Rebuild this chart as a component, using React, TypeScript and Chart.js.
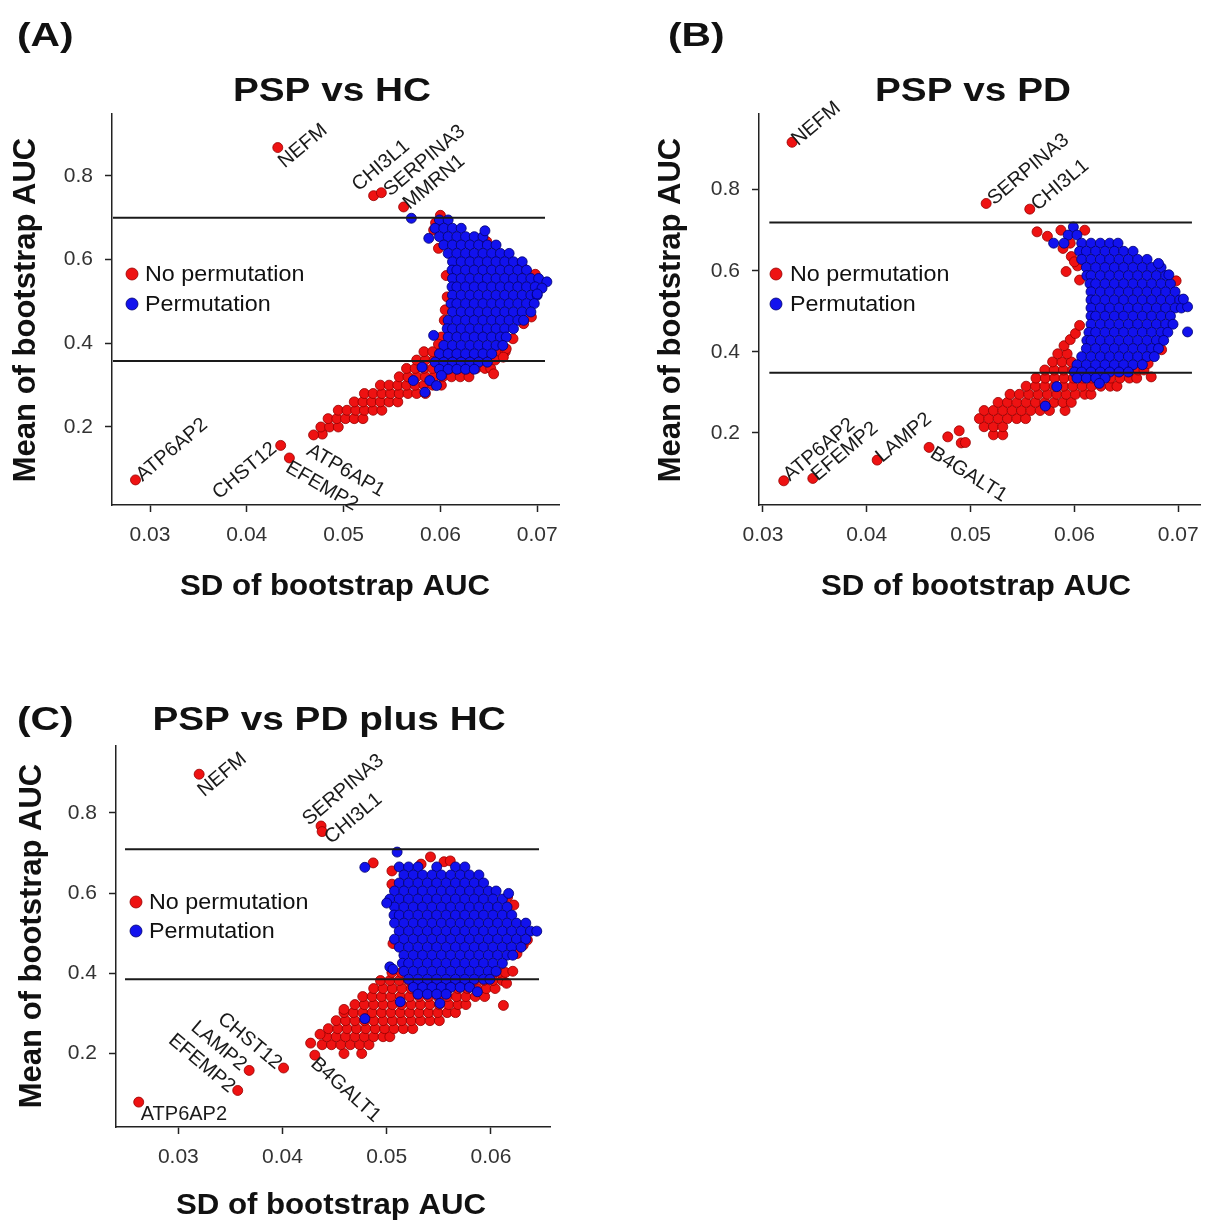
import React, { useEffect, useRef } from "react";
import { Chart, registerables } from "chart.js";

Chart.register(...registerables);

const FONT = "'Liberation Sans', Arial, Helvetica, sans-serif";
const RED = "rgb(238,18,18)";
const RED_EDGE = "rgb(150,0,0)";
const BLUE = "rgb(18,18,238)";
const BLUE_EDGE = "rgb(0,0,110)";

type Row = [number, number[]]; // [mean AUC, list of SD values at that level]
type Pt = [number, number]; // [SD, mean]

const legendLabels = ["No permutation", "Permutation"];
const xAxisTitle = "SD of bootstrap AUC";
const yAxisTitle = "Mean of bootstrap AUC";
const yTicks = [0.2, 0.4, 0.6, 0.8];
const yTickLabels = ["0.2", "0.4", "0.6", "0.8"];

// ---------------- Panel A: PSP vs HC ----------------
const xTicksA = [0.03, 0.04, 0.05, 0.06, 0.07];
const xTickLabelsA = ["0.03", "0.04", "0.05", "0.06", "0.07"];
const cutoffsA = [0.7, 0.358];
const blueRowsA: Row[] = [
  [0.695, [.0599, .0608]],
  [0.675, [.05945, .06035, .06125, .06215]],
  [0.655, [.0599, .0608, .0617, .0626, .0635, .0644]],
  [0.635, [.06035, .06125, .06215, .06305, .06395, .06485, .06575]],
  [0.615, [.0608, .0617, .0626, .0635, .0644, .0653, .0662, .0671]],
  [0.595, [.06125, .06215, .06305, .06395, .06485, .06575, .06665, .06755, .06845]],
  [0.575, [.0612, .0617, .0626, .0635, .0644, .0653, .0662, .0671, .068, .0689]],
  [0.555, [.06125, .06215, .06305, .06395, .06485, .06575, .06665, .06755, .06845, .06935, .07015]],
  [0.535, [.0612, .0617, .0626, .0635, .0644, .0653, .0662, .0671, .068, .0689, .0698]],
  [0.515, [.06125, .06215, .06305, .06395, .06485, .06575, .06665, .06755, .06845, .06935, .07]],
  [0.495, [.0611, .0617, .0626, .0635, .0644, .0653, .0662, .0671, .068, .0689, .0697]],
  [0.475, [.06125, .06215, .06305, .06395, .06485, .06575, .06665, .06755, .06845, .06935]],
  [0.455, [.0608, .0617, .0626, .0635, .0644, .0653, .0662, .0671, .068, .0686]],
  [0.435, [.0607, .06125, .06215, .06305, .06395, .06485, .06575, .06665, .06755]],
  [0.415, [.0608, .0617, .0626, .0635, .0644, .0653, .0662, .0668]],
  [0.395, [.06035, .06125, .06215, .06305, .06395, .06485, .06575, .06645]],
  [0.375, [.0599, .0608, .0617, .0626, .0635, .0644, .0653]],
  [0.355, [.05945, .06035, .06125, .06215, .06305, .06395, .06485]],
  [0.338, [.0599, .0608, .0617, .0626, .0635]],
];
const blueExtraA: Pt[] = [
  [.057, .699], [.0588, .651], [.0646, .669], [.071, .547], [.0705, .532], [.07, .518],
  [.0593, .419], [.0581, .343], [.0572, .311], [.0589, .311], [.0584, .283], [.0596, .299], [.0601, .323],
];
const redRowsA: Row[] = [
  [0.183, [.0478]],
  [0.2, [.04765, .04855, .04945]],
  [0.22, [.0484, .0493, .0502, .0511, .052]],
  [0.24, [.04945, .05035, .05125, .05215, .05305, .05395]],
  [0.26, [.0511, .052, .0529, .0538, .0547, .0556]],
  [0.28, [.05215, .05305, .05395, .05485, .05575, .05665, .05755, .05845]],
  [0.3, [.0538, .0547, .0556, .0565, .0574, .0583, .0592, .0601]],
  [0.32, [.05575, .05665, .05755, .05845, .05935, .06025, .06115, .06205, .06295]],
  [0.34, [.0565, .0574, .0583, .0592, .0601, .061, .0619, .0628, .0637, .0646, .0652]],
  [0.36, [.05755, .05845, .05935, .06025, .06115, .06205, .06295, .06385, .06475, .06565]],
  [0.38, [.0583, .0592, .0601, .061, .0662, .0667]],
];
const redExtraA: Pt[] = [
  [.06, .706], [.0593, .671], [.0598, .627], [.0595, .688], [.0648, .643], [.0686, .579],
  [.0682, .59], [.0698, .565], [.0607, .511], [.0604, .455], [.0601, .415], [.0598, .398],
  [.0605, .48], [.0694, .463], [.0686, .447], [.0675, .411], [.0668, .387], [.0665, .367],
  [.0655, .327], [.0606, .562],
];
const geneNamesA = ["NEFM", "CHI3L1", "SERPINA3", "MMRN1", "ATP6AP2", "CHST12", "EFEMP2", "ATP6AP1"];
const geneXA = [.0432, .0531, .0539, .0562, .0285, .0435, .0444, .0469];
const geneYA = [.868, .753, .76, .726, .0735, .156, .126, .181];

// ---------------- Panel B: PSP vs PD ----------------
const xTicksB = [0.03, 0.04, 0.05, 0.06, 0.07];
const xTickLabelsB = ["0.03", "0.04", "0.05", "0.06", "0.07"];
const cutoffsB = [0.719, 0.348];
const blueRowsB: Row[] = [
  [0.708, [.0599]],
  [0.688, [.0594, .06025]],
  [0.668, [.058, .059, .0607, .0616, .0625, .0634, .0642]],
  [0.648, [.0605, .06115, .06205, .06295, .06385, .06475, .06565]],
  [0.628, [.0607, .0616, .0625, .0634, .0643, .0652, .0661, .067]],
  [0.608, [.06115, .06205, .06295, .06385, .06475, .06565, .06655, .06745, .06835]],
  [0.588, [.0612, .0616, .0625, .0634, .0643, .0652, .0661, .067, .0679, .0688]],
  [0.568, [.0615, .06205, .06295, .06385, .06475, .06565, .06655, .06745, .06835, .06925]],
  [0.548, [.0616, .0625, .0634, .0643, .0652, .0661, .067, .0679, .0688, .0697]],
  [0.528, [.0616, .06205, .06295, .06385, .06475, .06565, .06655, .06745, .06835, .06925, .07015]],
  [0.508, [.0616, .0625, .0634, .0643, .0652, .0661, .067, .0679, .0688, .0697, .0703]],
  [0.488, [.0616, .06205, .06295, .06385, .06475, .06565, .06655, .06745, .06835, .06925]],
  [0.468, [.0616, .0625, .0634, .0643, .0652, .0661, .067, .0679, .0688, .0695]],
  [0.448, [.0614, .06205, .06295, .06385, .06475, .06565, .06655, .06745, .06835, .069]],
  [0.428, [.0612, .0616, .0625, .0634, .0643, .0652, .0661, .067, .0679, .0686]],
  [0.408, [.06115, .06205, .06295, .06385, .06475, .06565, .06655, .06745, .0681]],
  [0.388, [.0607, .0616, .0625, .0634, .0643, .0652, .0661, .067, .0677]],
  [0.368, [.06025, .06115, .06205, .06295, .06385, .06475, .06565, .06655]],
  [0.35, [.06, .0607, .0616, .0625, .0634, .0643, .0652]],
  [0.335, [.06025, .06115, .06205, .06295]],
];
const blueExtraB: Pt[] = [
  [.0709, .511], [.0709, .449], [.0681, .618], [.0691, .59], [.0583, .314], [.0572, .266], [.0624, .322], [.0705, .53],
];
const redRowsB: Row[] = [
  [0.195, [.0522, .0531]],
  [0.215, [.0513, .0522, .0531]],
  [0.235, [.05085, .05175, .05265, .05355, .05445, .0553]],
  [0.255, [.0513, .0522, .0531, .054, .0549, .0558, .0567, .0576, .0591]],
  [0.275, [.05265, .05355, .05445, .05535, .05625, .05715, .05805, .0589, .0597]],
  [0.295, [.0538, .0547, .0556, .0565, .0574, .0583, .0592, .0601, .061, .0616]],
  [0.315, [.05535, .05625, .05715, .05805, .05895, .05985, .06075, .06165, .06255, .06345, .0641]],
  [0.335, [.0563, .0572, .0581, .059, .0599, .0608, .0617, .0626, .0635, .0644, .0653, .066]],
  [0.355, [.05715, .05805, .05895, .05985, .06075, .06165, .06255, .06345, .06435, .06525, .06615, .0667]],
  [0.375, [.0579, .0588, .0597, .0669]],
  [0.395, [.0584, .0593, .0675]],
  [0.415, [.059]],
];
const redExtraB: Pt[] = [
  [.0478, .19], [.0489, .205], [.0491, .175], [.0495, .176],
  [.0564, .696], [.0574, .685], [.0587, .7], [.0589, .655], [.0597, .635], [.0592, .598], [.0605, .577],
  [.061, .7], [.0596, .668], [.0603, .612], [.06, .622],
  [.0698, .575], [.0671, .371], [.0674, .338], [.0684, .405], [.0596, .43], [.0601, .445], [.0605, .465],
];
const geneNamesB = ["NEFM", "SERPINA3", "CHI3L1", "ATP6AP2", "EFEMP2", "LAMP2", "B4GALT1"];
const geneXB = [.0328, .0515, .0557, .032, .0348, .041, .046];
const geneYB = [.917, .766, .752, .0815, .0874, .1326, .164];

// ---------------- Panel C: PSP vs PD plus HC ----------------
const xTicksC = [0.03, 0.04, 0.05, 0.06];
const xTickLabelsC = ["0.03", "0.04", "0.05", "0.06"];
const cutoffsC = [0.709, 0.385];
const blueRowsC: Row[] = [
  [0.702, [.051]],
  [0.665, [.0512, .0521, .053, .0548, .0566, .0575]],
  [0.645, [.05165, .05255, .05345, .05435, .05525, .05615, .05705, .05795, .05885]],
  [0.625, [.0512, .0521, .053, .0539, .0548, .0557, .0566, .0575, .0584, .0593]],
  [0.605, [.05075, .05165, .05255, .05345, .05435, .05525, .05615, .05705, .05795, .05885, .05975, .0605]],
  [0.585, [.0503, .0512, .0521, .053, .0539, .0548, .0557, .0566, .0575, .0584, .0593, .0602, .0611]],
  [0.565, [.05075, .05165, .05255, .05345, .05435, .05525, .05615, .05705, .05795, .05885, .05975, .06065, .06155]],
  [0.545, [.0507, .0512, .0521, .053, .0539, .0548, .0557, .0566, .0575, .0584, .0593, .0602, .0611, .062]],
  [0.525, [.05075, .05165, .05255, .05345, .05435, .05525, .05615, .05705, .05795, .05885, .05975, .06065, .06155, .06245, .06335]],
  [0.505, [.0512, .0521, .053, .0539, .0548, .0557, .0566, .0575, .0584, .0593, .0602, .0611, .062, .0629, .0638, .0644]],
  [0.485, [.05075, .05165, .05255, .05345, .05435, .05525, .05615, .05705, .05795, .05885, .05975, .06065, .06155, .06245, .06335]],
  [0.465, [.0512, .0521, .053, .0539, .0548, .0557, .0566, .0575, .0584, .0593, .0602, .0611, .062, .0629]],
  [0.445, [.05165, .05255, .05345, .05435, .05525, .05615, .05705, .05795, .05885, .05975, .06065, .06155, .0621]],
  [0.425, [.0515, .0521, .053, .0539, .0548, .0557, .0566, .0575, .0584, .0593, .0602, .0611]],
  [0.405, [.05165, .05255, .05345, .05435, .05525, .05615, .05705, .05795, .05885, .05975, .0605]],
  [0.385, [.0521, .053, .0539, .0548, .0557, .0566, .0575, .0584, .0593, .0599]],
  [0.365, [.05255, .05345, .05435, .05525, .05615, .05705, .05795]],
  [0.348, [.053, .0539, .0548, .0557]],
];
const blueExtraC: Pt[] = [
  [.0479, .664], [.0617, .599], [.0503, .416], [.0506, .41], [.05, .575], [.0587, .354], [.0551, .325], [.0513, .329], [.0479, .287],
];
const redRowsC: Row[] = [
  [0.2, [.0459, .0476]],
  [0.222, [.0438, .0447, .0456, .0465, .0474, .0483]],
  [0.242, [.04425, .04515, .04605, .04695, .04785, .04875, .04965, .0503]],
  [0.262, [.0444, .0453, .0462, .0471, .048, .0489, .0498, .0507, .0516, .0525]],
  [0.282, [.04515, .04605, .04695, .04785, .04875, .04965, .05055, .05145, .05235, .05325, .05415, .05505]],
  [0.302, [.0459, .0468, .0477, .0486, .0495, .0504, .0513, .0522, .0531, .054, .0549, .0558, .0566]],
  [0.322, [.04695, .04785, .04875, .04965, .05055, .05145, .05235, .05325, .05415, .05505, .05595, .05685, .0576]],
  [0.342, [.0477, .0486, .0495, .0504, .0513, .0522, .0531, .054, .0549, .0558, .0567, .0576, .0585, .0594]],
  [0.362, [.04875, .04965, .05055, .05145, .05235, .05325, .05415, .05505, .05595, .05685, .05775, .05865, .05955, .0604]],
  [0.382, [.0494, .0503, .0512, .0521, .053, .0539, .0548, .0557, .0566, .0575, .0584, .0593, .0602, .0611]],
  [0.402, [.0505, .0514, .0608, .0614]],
];
const redExtraC: Pt[] = [
  [.0427, .226], [.0436, .248], [.0459, .31], [.0612, .32], [.0615, .375], [.0621, .405], [.0625, .449],
  [.0631, .47], [.0635, .483], [.0616, .59], [.0622, .57], [.0487, .675], [.0505, .655], [.0533, .672],
  [.0542, .69], [.0555, .678], [.0561, .68], [.0506, .474], [.0505, .622],
];
const geneNamesC = ["NEFM", "SERPINA3", "CHI3L1", "CHST12", "LAMP2", "EFEMP2", "ATP6AP2", "B4GALT1"];
const geneXC = [.032, .0437, .0438, .0401, .0368, .0357, .0262, .0431];
const geneYC = [.896, .767, .753, .164, .158, .108, .079, .196];

// ---------------- layout / style (positions in px) ----------------
type LabelStyle = [number, number, number, CanvasTextAlign]; // dx, dy, angle, align

interface PanelCfg {
  left: number; top: number; w: number; h: number;
  area: { l: number; t: number; r: number; b: number };
  xMin: number; xMax: number; yMin: number; yMax: number;
  lineX: [number, number];
  cutoffs: number[];
  xTicks: number[]; xTickLabels: string[];
  blueRows: Row[]; blueExtra: Pt[]; redRows: Row[]; redExtra: Pt[];
  geneNames: string[]; geneX: number[]; geneY: number[]; labelStyles: LabelStyle[];
  letter: string; letterPos: [number, number];
  title: string; titlePos: [number, number];
  xTitlePos: [number, number]; yTitlePos: [number, number];
  legendDotX: number; legendY: [number, number]; legendTextX: number;
}

const panels: PanelCfg[] = [
  {
    left: 0, top: 0, w: 600, h: 610,
    area: { l: 112, t: 114, r: 559, b: 505 },
    xMin: 0.026074, xMax: 0.072252, yMin: 0.01353, yMax: 0.9482,
    lineX: [0.026178, 0.070806], cutoffs: cutoffsA,
    xTicks: xTicksA, xTickLabels: xTickLabelsA,
    blueRows: blueRowsA, blueExtra: blueExtraA, redRows: redRowsA, redExtra: redExtraA,
    geneNames: geneNamesA, geneX: geneXA, geneY: geneYA,
    labelStyles: [
      [7, 21, -40, "left"], [-15, -4, -40, "left"], [9, 4, -40, "left"], [6, 3, -40, "left"],
      [7, 2, -40, "left"], [-3, 5, -40, "right"], [-5, 13, 30, "left"], [-8, 19, 30, "left"],
    ],
    letter: "(A)", letterPos: [17, 46],
    title: "PSP vs HC", titlePos: [332, 101],
    xTitlePos: [335, 595], yTitlePos: [35, 310],
    legendDotX: 132, legendY: [274, 304], legendTextX: 145,
  },
  {
    left: 600, top: 0, w: 610, h: 610,
    area: { l: 159, t: 114, r: 603, b: 505 },
    xMin: 0.029617, xMax: 0.072146, yMin: 0.02182, yMax: 0.9868,
    lineX: [0.030613, 0.071322], cutoffs: cutoffsB,
    xTicks: xTicksB, xTickLabels: xTickLabelsB,
    blueRows: blueRowsB, blueExtra: blueExtraB, redRows: redRowsB, redExtra: redExtraB,
    geneNames: geneNamesB, geneX: geneXB, geneY: geneYB,
    labelStyles: [
      [6, 4, -40, "left"], [8, 2, -40, "left"], [8, 2, -40, "left"], [6, 1, -40, "left"],
      [5, 3, -40, "left"], [5, 3, -40, "left"], [0, 9, 32, "left"],
    ],
    letter: "(B)", letterPos: [68, 46],
    title: "PSP vs PD", titlePos: [373, 101],
    xTitlePos: [376, 595], yTitlePos: [80, 310],
    legendDotX: 176, legendY: [274, 304], legendTextX: 190,
  },
  {
    left: 0, top: 620, w: 600, h: 600,
    area: { l: 116, t: 126, r: 550, b: 507 },
    xMin: 0.02402, xMax: 0.06567, yMin: 0.017, yMax: 0.9663,
    lineX: [0.024885, 0.064616], cutoffs: cutoffsC,
    xTicks: xTicksC, xTickLabels: xTickLabelsC,
    blueRows: blueRowsC, blueExtra: blueExtraC, redRows: redRowsC, redExtra: redExtraC,
    geneNames: geneNamesC, geneX: geneXC, geneY: geneYC,
    labelStyles: [
      [5, 23, -40, "left"], [-12, 0, -40, "left"], [9, 13, -40, "left"], [-8, 2, 40, "right"],
      [-9, 1, 40, "right"], [-9, 3, 40, "right"], [2, 18, 0, "left"], [-5, 10, 42, "left"],
    ],
    letter: "(C)", letterPos: [17, 110],
    title: "PSP vs PD plus HC", titlePos: [329, 110],
    xTitlePos: [331, 594], yTitlePos: [41, 316],
    legendDotX: 136, legendY: [282, 311], legendTextX: 149,
  },
];

function flatten(rows: Row[], extra: Pt[]) {
  const out: { x: number; y: number }[] = [];
  for (const [y, xs] of rows) for (const x of xs) out.push({ x, y });
  for (const [x, y] of extra) out.push({ x, y });
  return out;
}

function drawScaledText(ctx: CanvasRenderingContext2D, text: string, x: number, y: number, sx: number, align: CanvasTextAlign) {
  ctx.save();
  ctx.translate(x, y);
  ctx.scale(sx, 1);
  ctx.textAlign = align;
  ctx.fillText(text, 0, 0);
  ctx.restore();
}

function overlayPlugin(cfg: PanelCfg) {
  return {
    id: "overlay",
    afterDraw(chart: any) {
      const ctx: CanvasRenderingContext2D = chart.ctx;
      ctx.save();
      ctx.fillStyle = "#111";
      ctx.textBaseline = "alphabetic";
      ctx.font = `bold 34px ${FONT}`;
      drawScaledText(ctx, cfg.letter, cfg.letterPos[0], cfg.letterPos[1], 1.2, "left");
      ctx.font = `bold 34px ${FONT}`;
      drawScaledText(ctx, cfg.title, cfg.titlePos[0], cfg.titlePos[1], 1.14, "center");
      ctx.font = `bold 30px ${FONT}`;
      drawScaledText(ctx, xAxisTitle, cfg.xTitlePos[0], cfg.xTitlePos[1], 1.04, "center");
      ctx.save();
      ctx.translate(cfg.yTitlePos[0], cfg.yTitlePos[1]);
      ctx.rotate(-Math.PI / 2);
      ctx.font = `bold 31px ${FONT}`;
      ctx.textAlign = "center";
      ctx.fillText(yAxisTitle, 0, 0);
      ctx.restore();

      // legend
      const colors = [[RED, RED_EDGE], [BLUE, BLUE_EDGE]];
      ctx.font = `22px ${FONT}`;
      ctx.textBaseline = "middle";
      legendLabels.forEach((lab, i) => {
        ctx.beginPath();
        ctx.arc(cfg.legendDotX, cfg.legendY[i], 6, 0, Math.PI * 2);
        ctx.fillStyle = colors[i][0];
        ctx.fill();
        ctx.lineWidth = 0.8;
        ctx.strokeStyle = colors[i][1];
        ctx.stroke();
        ctx.fillStyle = "#111";
        drawScaledText(ctx, lab, cfg.legendTextX, cfg.legendY[i] + 1, 1.06, "left");
      });

      // gene labels
      const xs = chart.scales.x;
      const ys = chart.scales.y;
      ctx.font = `20px ${FONT}`;
      ctx.fillStyle = "#1a1a1a";
      ctx.textBaseline = "alphabetic";
      cfg.geneNames.forEach((name, i) => {
        const [dx, dy, ang, align] = cfg.labelStyles[i];
        const px = xs.getPixelForValue(cfg.geneX[i]) + dx;
        const py = ys.getPixelForValue(cfg.geneY[i]) + dy;
        ctx.save();
        ctx.translate(px, py);
        ctx.rotate((ang * Math.PI) / 180);
        ctx.textAlign = align;
        ctx.fillText(name, 0, 0);
        ctx.restore();
      });
      ctx.restore();
    },
  };
}

function Panel({ cfg }: { cfg: PanelCfg }) {
  const ref = useRef<HTMLCanvasElement>(null);
  useEffect(() => {
    const canvas = ref.current!;
    const red = flatten(cfg.redRows, cfg.redExtra).concat(
      cfg.geneX.map((x, i) => ({ x, y: cfg.geneY[i] }))
    );
    const blue = flatten(cfg.blueRows, cfg.blueExtra);
    const lineSets = cfg.cutoffs.map((y) => ({
      data: [{ x: cfg.lineX[0], y }, { x: cfg.lineX[1], y }],
      showLine: true,
      pointRadius: 0,
      borderColor: "#1a1a1a",
      borderWidth: 2,
      order: 0,
    }));
    const axisCommon = {
      grid: { drawOnChartArea: false, drawTicks: true, tickLength: 7, tickWidth: 1.5, tickColor: "#222", color: "#222" },
      border: { display: true, color: "#222", width: 1.5 },
    };
    const chart = new Chart(canvas, {
      type: "scatter",
      data: {
        datasets: [
          ...lineSets,
          { data: blue, backgroundColor: BLUE, borderColor: BLUE_EDGE, borderWidth: 0.8, pointRadius: 5, order: 1 },
          { data: red, backgroundColor: RED, borderColor: RED_EDGE, borderWidth: 0.8, pointRadius: 5, order: 2 },
        ] as any,
      },
      options: {
        animation: false,
        responsive: false,
        maintainAspectRatio: false,
        events: [],
        layout: { padding: { left: 0, top: cfg.area.t, right: cfg.w - cfg.area.r, bottom: 0 } },
        plugins: { legend: { display: false }, tooltip: { enabled: false }, title: { display: false } },
        scales: {
          x: {
            type: "linear",
            min: cfg.xMin,
            max: cfg.xMax,
            afterFit: (s: any) => { s.height = cfg.h - cfg.area.b; },
            afterBuildTicks: (s: any) => { s.ticks = cfg.xTicks.map((v) => ({ value: v })); },
            ticks: {
              callback: (_v: any, i: number) => cfg.xTickLabels[i],
              font: { family: FONT, size: 21 },
              color: "#333",
              padding: 11,
              maxRotation: 0,
              autoSkip: false,
            },
            ...axisCommon,
          },
          y: {
            type: "linear",
            min: cfg.yMin,
            max: cfg.yMax,
            afterFit: (s: any) => { s.width = cfg.area.l; },
            afterBuildTicks: (s: any) => { s.ticks = yTicks.map((v) => ({ value: v })); },
            ticks: {
              callback: (_v: any, i: number) => yTickLabels[i],
              font: { family: FONT, size: 21 },
              color: "#333",
              padding: 12,
              autoSkip: false,
            },
            ...axisCommon,
          },
        },
      } as any,
      plugins: [overlayPlugin(cfg)],
    });
    return () => chart.destroy();
  }, [cfg]);
  return (
    <canvas
      ref={ref}
      width={cfg.w}
      height={cfg.h}
      style={{ position: "absolute", left: cfg.left, top: cfg.top, width: cfg.w, height: cfg.h }}
    />
  );
}

export default function App() {
  return (
    <div style={{ position: "absolute", left: 0, top: 0, width: 1210, height: 1220, background: "#fff", overflow: "hidden" }}>
      {panels.map((p, i) => (
        <Panel key={i} cfg={p} />
      ))}
    </div>
  );
}
